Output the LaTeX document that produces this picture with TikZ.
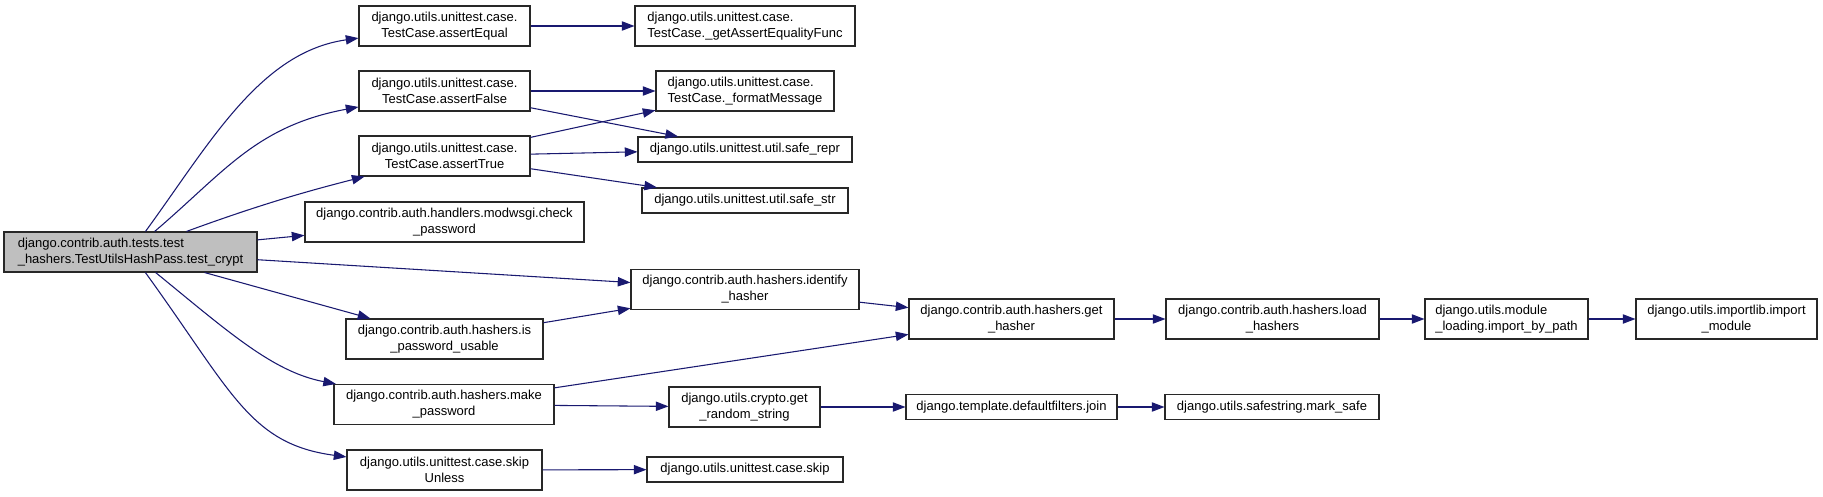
\documentclass[tikz,border=0pt]{standalone}
\usepackage{fontspec}
\setmainfont{Liberation Sans}
\usetikzlibrary{arrows.meta}
\definecolor{dxEdge}{RGB}{25,25,112}
\definecolor{dxRoot}{RGB}{191,191,191}
\definecolor{dxLine}{RGB}{40,40,40}

\begin{document}
\begin{tikzpicture}[x=0.75pt,y=-0.75pt,font=\fontsize{9.75}{12}\selectfont]
  \tikzset{fn/.style={draw=dxLine,line width=0.8pt,fill=white,minimum width=#1*0.75pt,minimum height=30pt,inner xsep=0pt,inner ysep=0pt,align=center},
    fs/.style={fn=#1,minimum height=18.75pt},
    call/.style={-{Triangle[length=9.5pt,width=7pt]},color=dxEdge,line width=0.8pt}}
  \useasboundingbox (0,0) rectangle (1823,496);
  % caller
  \node[fn=253,fill=dxRoot,align=left] (root) at (130.5,252) {django.contrib.auth.tests.test\\\_hashers.TestUtilsHashPass.test\_crypt};
  % first level
  \node[fn=171] (eq) at (444.5,26) {django.utils.unittest.case.\\TestCase.assertEqual};
  \node[fn=171] (aFalse) at (444.5,91) {django.utils.unittest.case.\\TestCase.assertFalse};
  \node[fn=171] (aTrue) at (444.5,156) {django.utils.unittest.case.\\TestCase.assertTrue};
  \node[fn=279] (checkPw) at (444.5,222) {django.contrib.auth.handlers.modwsgi.check\\\_password};
  \node[fn=197] (isUsable) at (444.5,339) {django.contrib.auth.hashers.is\\\_password\_usable};
  \node[fn=220] (makePw) at (444,404.5) {django.contrib.auth.hashers.make\\\_password};
  \node[fn=195] (skipUnless) at (444.5,470) {django.utils.unittest.case.skip\\Unless};
  % second level
  \node[fn=220,align=left] (getEq) at (745,26) {django.utils.unittest.case.\\TestCase.\_getAssertEqualityFunc};
  \node[fn=178,align=left] (fmtMsg) at (745,91) {django.utils.unittest.case.\\TestCase.\_formatMessage};
  \node[fs=214] (safeRepr) at (745,149.5) {django.utils.unittest.util.safe\_repr};
  \node[fs=206] (safeStr) at (745,200.5) {django.utils.unittest.util.safe\_str};
  \node[fn=228] (identify) at (745,289.5) {django.contrib.auth.hashers.identify\\\_hasher};
  \node[fn=151] (randStr) at (744.5,407) {django.utils.crypto.get\\\_random\_string};
  \node[fs=196] (skip) at (745,469.5) {django.utils.unittest.case.skip};
  % deeper levels
  \node[fn=205] (getHasher) at (1011.5,319) {django.contrib.auth.hashers.get\\\_hasher};
  \node[fn=213] (loadHashers) at (1272.5,319) {django.contrib.auth.hashers.load\\\_hashers};
  \node[fn=163,align=left] (byPath) at (1506.5,319) {django.utils.module\\\_loading.import\_by\_path};
  \node[fn=181] (impModule) at (1726.5,319) {django.utils.importlib.import\\\_module};
  \node[fs=211] (join) at (1011.5,407) {django.template.defaultfilters.join};
  \node[fs=214] (markSafe) at (1272,407) {django.utils.safestring.mark\_safe};
  % calls
  \draw[call] (root) .. controls (210,143) and (260,52) .. (eq);
  \draw[call] (root) .. controls (224.5,172) and (256,126) .. (aFalse);
  \draw[call] (root) .. controls (266.75,202) and (316,189) .. (aTrue);
  \draw[call] (root) .. controls (228.5,332) and (273,372) .. (makePw);
  \draw[call] (root) .. controls (232,392) and (249.5,444) .. (skipUnless);
  \foreach \a/\b in {eq/getEq,aFalse/fmtMsg,aFalse/safeRepr,aTrue/fmtMsg,aTrue/safeRepr,aTrue/safeStr,
      root/checkPw,root/identify,root/isUsable,isUsable/identify,identify/getHasher,
      makePw/getHasher,makePw/randStr,randStr/join,join/markSafe,
      getHasher/loadHashers,loadHashers/byPath,byPath/impModule,skipUnless/skip} {
    \draw[call] (\a) -- (\b);
  }
\end{tikzpicture}
\end{document}
